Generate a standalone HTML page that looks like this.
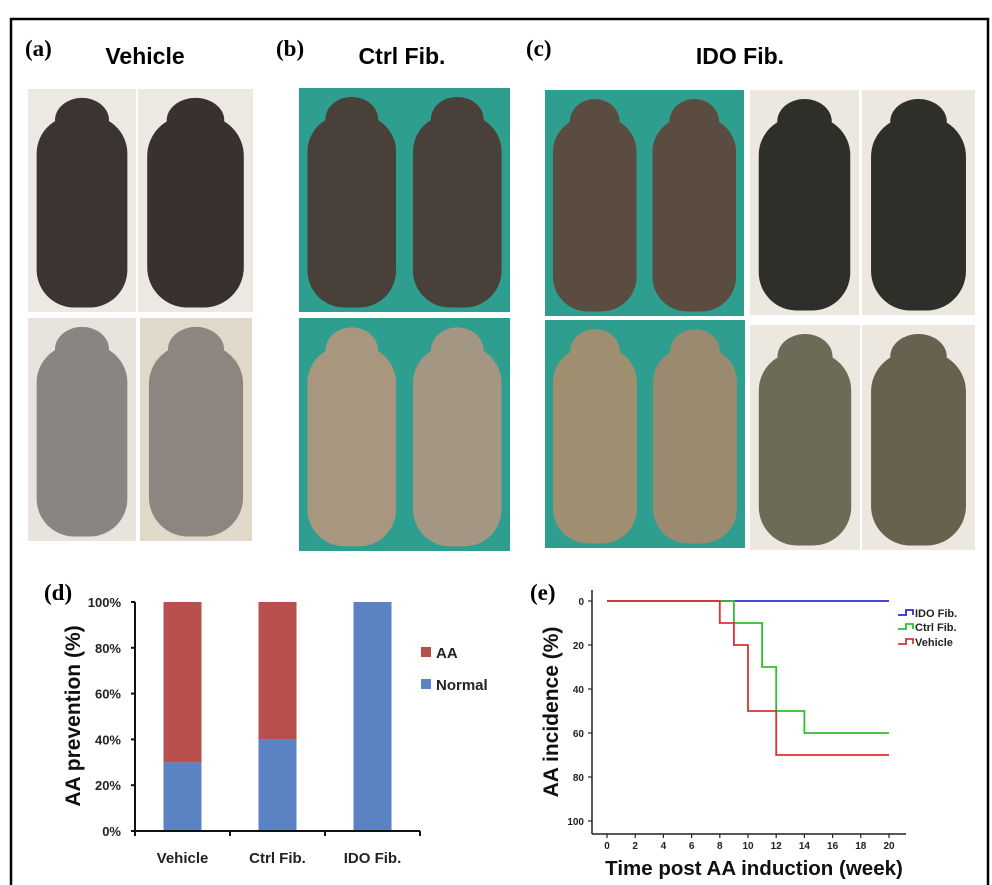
<!DOCTYPE html>
<html><head><meta charset="utf-8"><style>
html,body{margin:0;padding:0;background:#fff;}
svg{display:block;font-family:"Liberation Sans",sans-serif;}
</style></head><body>
<svg id="fig" width="992" height="885" viewBox="0 0 992 885" xmlns="http://www.w3.org/2000/svg">
<rect x="11" y="19" width="977" height="880" fill="none" stroke="#000" stroke-width="2.5"/>

<g font-family="Liberation Serif,serif" font-weight="bold" font-size="23">
<text x="25" y="56">(a)</text>
<text x="276" y="56">(b)</text>
<text x="526" y="56">(c)</text>
<text x="44" y="600">(d)</text>
<text x="530" y="600">(e)</text>
</g>
<g font-weight="bold" font-size="23" text-anchor="middle">
<text x="145" y="64">Vehicle</text>
<text x="402" y="64">Ctrl Fib.</text>
<text x="740" y="64">IDO Fib.</text>
</g>

<g id="photos"></g>

<g id="chartD"></g>
<g id="chartE"></g>
</svg>
<script>
// ---- chart d data ----
const barCategories = ["Vehicle", "Ctrl Fib.", "IDO Fib."];
const normalValues = [30, 40, 100];
const aaValues = [70, 60, 0];
const barTicks = [0, 20, 40, 60, 80, 100];
// ---- chart e data ----
const weekTicks = [0, 2, 4, 6, 8, 10, 12, 14, 16, 18, 20];
const incidenceTicks = [0, 20, 40, 60, 80, 100];
const idoWeeks = [0, 20];
const idoValues = [0, 0];
const ctrlWeeks = [0, 9, 11, 12, 14, 20];
const ctrlValues = [0, 10, 30, 50, 60, 60];
const vehWeeks = [0, 8, 9, 10, 12, 20];
const vehValues = [0, 10, 20, 50, 70, 70];

const NS = "http://www.w3.org/2000/svg";
function mk(parent, tag, attrs, text) {
  const e = document.createElementNS(NS, tag);
  for (const k in attrs) e.setAttribute(k, attrs[k]);
  if (text !== undefined) e.textContent = text;
  parent.appendChild(e);
  return e;
}

// ---- photos ----
const photos = document.getElementById('photos');
const panels = [
  [28,89,108,223,'#ece8e2',[['#3b3430',1]]],
  [138,89,115,223,'#ece8e2',[['#38312d',1]]],
  [28,318,108,223,'#e8e3dc',[['#8a8582',1]]],
  [140,318,112,223,'#e0d8c8',[['#8d8680',1]]],
  [299,88,211,224,'#2e9e8e',[['#4a403a',0.47],['#4a403a',0.47]]],
  [299,318,211,233,'#2e9e8e',[['#a8977e',0.47],['#a39682',0.47]]],
  [545,90,199,226,'#2e9e8e',[['#5a4c40',0.47],['#5a4c40',0.47]]],
  [750,90,109,225,'#ece8e0',[['#2f2f2a',1]]],
  [862,90,113,225,'#ece8e0',[['#2f2f2a',1]]],
  [545,320,200,228,'#2e9e8e',[['#a08e70',0.47],['#9a8a70',0.47]]],
  [750,325,110,225,'#ece8e0',[['#6e6a58',1]]],
  [862,325,113,225,'#ece8e0',[['#67624f',1]]]
];
panels.forEach((p, i) => {
  const [x,y,w,h,bg,mice] = p;
  const g = mk(photos, 'g', {});
  
  
  mk(g, 'rect', {x:x, y:y, width:w, height:h, fill:bg});
  const n = mice.length;
  mice.forEach((m, j) => {
    const mw = w / n;
    const cx = x + mw * j + mw / 2;
    mk(g, 'rect', {x:cx - mw*0.42, y:y + h*0.12, width:mw*0.84, height:h*0.86, rx:mw*0.35, fill:m[0]});
    mk(g, 'ellipse', {cx:cx, cy:y + h*0.14, rx:mw*0.25, ry:h*0.1, fill:m[0]});
  });
});

// ---- chart d ----
(function(){
  const g = document.getElementById('chartD');
  const x0 = 135, y0 = 831, y100 = 602;
  const yS = v => y0 - (y0 - y100) * v / 100;
  const slot = 95, bw = 38, xStart = 135;
  barCategories.forEach((c, i) => {
    const cx = xStart + slot * i + slot / 2;
    const n = mk(g, 'rect', {x:cx - bw/2, y:yS(normalValues[i]), width:bw, height:y0 - yS(normalValues[i]), fill:'#5b82c2'});
    
    
    const a = mk(g, 'rect', {x:cx - bw/2, y:yS(normalValues[i] + aaValues[i]), width:bw, height:yS(normalValues[i]) - yS(normalValues[i] + aaValues[i]), fill:'#b94f4c'});
    
    
    const t = mk(g, 'text', {x:cx, y:863, 'font-size':15, 'font-weight':'bold', 'text-anchor':'middle', fill:'#222'}, c);
    
    
  });
  mk(g, 'line', {x1:x0, y1:y100, x2:x0, y2:y0, stroke:'#111', 'stroke-width':2});
  mk(g, 'line', {x1:x0, y1:y0, x2:x0 + slot*3, y2:y0, stroke:'#111', 'stroke-width':2});
  for (let i = 0; i <= 3; i++) mk(g, 'line', {x1:x0 + slot*i, y1:y0, x2:x0 + slot*i, y2:y0 + 5, stroke:'#111', 'stroke-width':2});
  barTicks.forEach(v => {
    mk(g, 'line', {x1:x0 - 4, y1:yS(v), x2:x0, y2:yS(v), stroke:'#111', 'stroke-width':2});
    const t = mk(g, 'text', {x:121, y:yS(v) + 5, 'font-size':13, 'font-weight':'bold', 'text-anchor':'end', fill:'#222'}, v + '%');
    
    
  });
  const yt = mk(g, 'text', {x:0, y:0, transform:'translate(80,716) rotate(-90)', 'font-size':21, 'font-weight':'bold', 'text-anchor':'middle', fill:'#111'}, 'AA prevention (%)');
  
  
  const leg = [['AA','#b94f4c',655],['Normal','#5b82c2',687]];
  leg.forEach(l => {
    const r = mk(g, 'rect', {x:421, y:l[2] - 8, width:10, height:10, fill:l[1]});
    
    
    const t = mk(g, 'text', {x:436, y:l[2] + 3, 'font-size':15, 'font-weight':'bold', fill:'#222'}, l[0]);
    
    
  });
})();

// ---- chart e ----
(function(){
  const g = document.getElementById('chartE');
  const xS = w => 607 + (889 - 607) * w / 20;
  const yS = v => 601 + (821 - 601) * v / 100;
  mk(g, 'line', {x1:592, y1:590, x2:592, y2:834, stroke:'#222', 'stroke-width':1.5});
  mk(g, 'line', {x1:592, y1:834, x2:906, y2:834, stroke:'#222', 'stroke-width':1.5});
  incidenceTicks.forEach(v => {
    mk(g, 'line', {x1:588, y1:yS(v), x2:592, y2:yS(v), stroke:'#222', 'stroke-width':1.2});
    const t = mk(g, 'text', {x:584, y:yS(v) + 4, 'font-size':10, 'font-weight':'bold', 'text-anchor':'end', fill:'#222'}, v);
    
    
  });
  weekTicks.forEach(w => {
    mk(g, 'line', {x1:xS(w), y1:834, x2:xS(w), y2:838, stroke:'#222', 'stroke-width':1.2});
    const t = mk(g, 'text', {x:xS(w), y:849, 'font-size':10, 'font-weight':'bold', 'text-anchor':'middle', fill:'#222'}, w);
    
    
  });
  function step(ws, vs) {
    let d = 'M' + xS(ws[0]) + ',' + yS(vs[0]);
    for (let i = 1; i < ws.length; i++) d += ' H' + xS(ws[i]) + ' V' + yS(vs[i]);
    return d;
  }
  const series = [[idoWeeks, idoValues, '#2b2bdc', 'line-ido-fib'], [ctrlWeeks, ctrlValues, '#2fc02f', 'line-ctrl-fib'], [vehWeeks, vehValues, '#e03030', 'line-vehicle']];
  series.forEach(s => {
    const p = mk(g, 'path', {d:step(s[0], s[1]), fill:'none', stroke:s[2], 'stroke-width':1.8});
    
    
  });
  const leg = [['IDO Fib.','#2b2bdc',614],['Ctrl Fib.','#2fc02f',628],['Vehicle','#e03030',643]];
  leg.forEach(l => {
    mk(g, 'path', {d:'M898,' + (l[2]+1) + ' H906 V' + (l[2]-4) + ' H913 V' + (l[2]+1), fill:'none', stroke:l[1], 'stroke-width':1.8});
    const t = mk(g, 'text', {x:915, y:l[2] + 3, 'font-size':11, 'font-weight':'bold', fill:'#222'}, l[0]);
    
    
  });
  const xt = mk(g, 'text', {x:754, y:875, 'font-size':20.5, 'font-weight':'bold', 'text-anchor':'middle', fill:'#111'}, 'Time post AA induction (week)');
  
  
  const yt = mk(g, 'text', {x:0, y:0, transform:'translate(558,712) rotate(-90)', 'font-size':21, 'font-weight':'bold', 'text-anchor':'middle', fill:'#111'}, 'AA incidence (%)');
  
  
})();
</script>
</body></html>
